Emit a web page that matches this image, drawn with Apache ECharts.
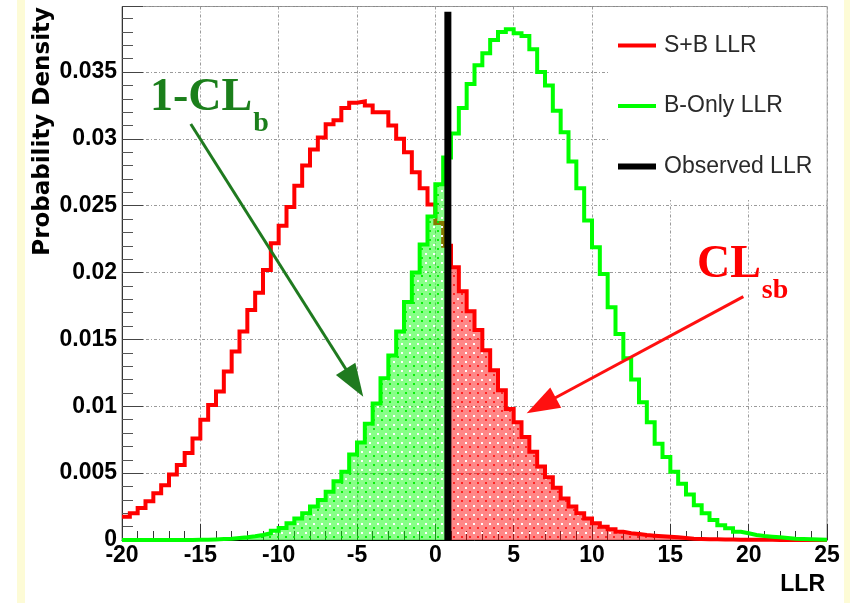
<!DOCTYPE html>
<html><head><meta charset="utf-8">
<script src="https://cdn.jsdelivr.net/npm/echarts@6/dist/echarts.min.js"></script>
<style>html,body{margin:0;padding:0;background:#fff}#c{width:850px;height:603px}</style>
</head><body><div id="c"></div>
<script>
// ---- data ----
const binLow = -20, binWidth = 0.5;           // histogram bins: -20 .. 25, width 0.5
const sbValues = [
  0.00174,0.0020,0.0024,0.0029,0.0035,0.0041,0.0049,0.0056,0.0065,0.0076,
  0.0090,0.0101,0.0111,0.0126,0.0141,0.0156,0.0172,0.0185,0.0202,0.0222,
  0.0235,0.0249,0.0265,0.0280,0.0292,0.0301,0.0311,0.0314,0.0323,0.0327,
  0.0328,0.0325,0.0320,0.0320,0.0310,0.0300,0.0290,0.0275,0.0263,0.0251,
  0.0237,0.0220,0.0204,0.0186,0.0171,0.0157,0.0142,0.0127,0.0112,0.0098,
  0.0088,0.0077,0.0066,0.0055,0.0047,0.0039,0.0031,0.0025,0.0020,0.0016,
  0.00125,0.0010,0.0008,0.00062,0.0005,0.00045,0.00037,0.00032,0.00028,0.00024,
  0.0002,0.00015,0.0001,0.00008,0.00006,0.00005,0.00004,0.00003,0.00002,0.00002,
  0.00001,0.00001,0.00001,0,0,0,0,0,0,0
];
const bValues = [
  0,0,0,0,0,0,0,0,0,0.00001,
  0.00002,0.00004,0.00007,0.0001,0.00015,0.0002,0.00028,0.00038,0.0005,0.0007,
  0.0009,0.00125,0.0016,0.0020,0.0025,0.0030,0.0036,0.0044,0.0051,0.0064,
  0.0073,0.0087,0.0102,0.0121,0.0138,0.0156,0.0178,0.0200,0.0221,0.0242,
  0.0266,0.0286,0.0304,0.0323,0.0341,0.0355,0.0364,0.0374,0.0380,0.0382,
  0.0379,0.0377,0.0367,0.0350,0.0340,0.0321,0.0305,0.0283,0.0263,0.0239,
  0.0219,0.0199,0.0174,0.0154,0.0136,0.0120,0.0103,0.0088,0.0072,0.0062,
  0.0051,0.0042,0.0034,0.0026,0.0020,0.0015,0.0011,0.00087,0.00062,0.0005,
  0.00037,0.0003,0.00025,0.0002,0.00015,0.0001,0.00007,0.00005,0.00003,0.00002
];
const observedLLR = 0.8;
const observedTop = 0.0395;
const seriesNames = ['S+B LLR', 'B-Only LLR', 'Observed LLR'];
const xMin = -20, xMax = 25, xInterval = 5;
const yMin = 0, yMax = 0.0399, yInterval = 0.005;
// annotation anchors (data coordinates)
const greenArrow = [[-15.61, 0.03111], [-4.60, 0.01072]];
const redArrow = [[19.66, 0.01820], [5.83, 0.00948]];
const labelB = { main: '1-CL', sub: 'b', at: [-18.21, 0.03306] };
const labelSB = { main: 'CL', sub: 'sb', at: [16.70, 0.02057] };

// ---- build ----
const edges = sbValues.map((_, i) => binLow + i * binWidth);
const xEnd = binLow + sbValues.length * binWidth;
function stepData(vals) {
  const d = edges.map((e, i) => [e, vals[i]]);
  d.push([xEnd, vals[vals.length - 1]]);
  return d;
}
const obsBin = Math.floor((observedLLR - binLow) / binWidth);
const greenFill = edges.slice(0, obsBin + 1).map((e, i) => [e, bValues[i]])
  .concat([[observedLLR, bValues[obsBin]]]);
const redFill = [[observedLLR, sbValues[obsBin]]]
  .concat(edges.slice(obsBin + 1).map((e, k) => [e, sbValues[obsBin + 1 + k]]))
  .concat([[xEnd, sbValues[sbValues.length - 1]]]);

function makeTile(base, dot) {
  const c = document.createElement('canvas'); c.width = 8; c.height = 9;
  const g = c.getContext('2d');
  g.fillStyle = base; g.fillRect(0, 0, 8, 9);
  g.fillStyle = '#ffffff'; g.fillRect(1, 1, 2, 2);
  g.fillStyle = dot; g.fillRect(5, 5, 2, 2);
  return c;
}
const greenTile = makeTile('rgba(0,255,0,0.47)', 'rgba(0,235,0,0.9)');
const redTile = makeTile('rgba(255,0,0,0.47)', 'rgba(255,20,20,0.85)');

const labelFont = { color: '#000', fontWeight: 'bold', fontSize: 23, fontFamily: 'Liberation Sans, Arial, sans-serif' };
const gridLine = { show: true, lineStyle: { color: '#9a9a9a', width: 1, type: [3, 2, 1, 2] } };
const hiddenSymbol = { opacity: 0 };

const chart = echarts.init(document.getElementById('c'), null, { renderer: 'canvas' });
const option = {
  animation: false,
  backgroundColor: '#ffffff',
  grid: { left: 122, right: 23, top: 6.5, bottom: 63, show: true, borderColor: '#8a8a8a', borderWidth: 1,
          containLabel: false, outerBoundsMode: 'none' },
  xAxis: {
    type: 'value', min: xMin, max: xMax, interval: xInterval,
    axisLine: { show: true, onZero: false, lineStyle: { color: '#000', width: 1 } },
    axisTick: { show: true, inside: true, length: 16, lineStyle: { color: '#333' } },
    minorTick: { show: true, splitNumber: 5, length: 9, lineStyle: { color: '#333' } },
    axisLabel: Object.assign({ show: true, margin: 4 }, labelFont),
    splitLine: gridLine, minorSplitLine: { show: false }
  },
  yAxis: {
    type: 'value', min: yMin, max: yMax, interval: yInterval,
    axisLine: { show: true, onZero: false, lineStyle: { color: '#333', width: 1 } },
    axisTick: { show: true, inside: true, length: 21, lineStyle: { color: '#444' } },
    minorTick: { show: true, splitNumber: 5, length: 11, lineStyle: { color: '#555' } },
    axisLabel: Object.assign({ show: true, margin: 5, showMaxLabel: false }, labelFont),
    splitLine: gridLine, minorSplitLine: { show: false }
  },
  legend: {
    show: true, orient: 'vertical', left: 610, top: 29,
    itemWidth: 38, itemHeight: 24, itemGap: 37.5, selectedMode: false,
    textStyle: { fontFamily: 'Liberation Sans, Arial, sans-serif', fontSize: 23, color: '#2a2a2a', padding: [0, 0, 0, 3] },
    data: [
      { name: seriesNames[0], lineStyle: { width: 4 }, itemStyle: hiddenSymbol },
      { name: seriesNames[1], lineStyle: { width: 4 }, itemStyle: hiddenSymbol },
      { name: seriesNames[2], lineStyle: { width: 6 }, itemStyle: hiddenSymbol }
    ]
  },
  series: [
    { type: 'line', name: 'sbFill', data: redFill, step: 'end', symbol: 'none', silent: true, z: 2,
      lineStyle: { width: 0 }, areaStyle: { color: { image: redTile, repeat: 'repeat' }, opacity: 1 } },
    { type: 'line', name: seriesNames[0], data: stepData(sbValues), step: 'end', symbol: 'none', z: 3, clip: false,
      lineStyle: { color: '#ff0000', width: 4, join: 'miter' }, itemStyle: { color: '#ff0000' } },
    { type: 'line', name: 'bFill', data: greenFill, step: 'end', symbol: 'none', silent: true, z: 4,
      lineStyle: { width: 0 }, areaStyle: { color: { image: greenTile, repeat: 'repeat' }, opacity: 1 } },
    { type: 'line', name: seriesNames[1], data: stepData(bValues), step: 'end', symbol: 'none', z: 5, clip: false,
      lineStyle: { color: '#00ff00', width: 4, join: 'miter' }, itemStyle: { color: '#00ff00' } },
    { type: 'line', name: seriesNames[2], data: [[observedLLR, 0], [observedLLR, observedTop]], symbol: 'none', z: 6,
      lineStyle: { color: '#000000', width: 7 }, itemStyle: { color: '#000000' } }
  ]
};
chart.setOption(option);

// ---- annotations ----
const px = p => chart.convertToPixel({ gridIndex: 0 }, p);
const mctx = document.createElement('canvas').getContext('2d');
function textW(font, t) { mctx.font = font; return mctx.measureText(t).width; }
function arrow(seg, color) {
  const a = px(seg[0]), b = px(seg[1]);
  const dx = b[0] - a[0], dy = b[1] - a[1], len = Math.hypot(dx, dy), ux = dx / len, uy = dy / len;
  const L = 33, W = 11.5;
  const bx = b[0] - ux * L, by = b[1] - uy * L;
  return [
    { type: 'line', z: 20, shape: { x1: a[0], y1: a[1], x2: bx + ux * 3, y2: by + uy * 3 }, style: { stroke: color, lineWidth: 3 } },
    { type: 'polygon', z: 20, shape: { points: [[b[0], b[1]], [bx - uy * W, by + ux * W], [bx + uy * W, by - ux * W]] }, style: { fill: color } }
  ];
}
function subLabel(lab, color) {
  const p = px(lab.at);
  const mainFont = 'bold 46px "Liberation Serif", "Times New Roman", serif';
  const subFont = 'bold 28px "Liberation Serif", "Times New Roman", serif';
  const w = textW(mainFont, lab.main);
  return [
    { type: 'text', z: 20, x: p[0], y: p[1], style: { text: lab.main, font: mainFont, fill: color, align: 'left', verticalAlign: 'middle' } },
    { type: 'text', z: 20, x: p[0] + w + 1, y: p[1] + 26, style: { text: lab.sub, font: subFont, fill: color, align: 'left', verticalAlign: 'middle' } }
  ];
}
const gTop = px([xMin, yMax]), gBot = px([xMax, yMin]);
const elements = [
  { type: 'rect', z: 0, shape: { x: 17, y: 0, width: 8, height: 603 }, style: { fill: '#fdfbd6' } },
  { type: 'rect', z: 0, shape: { x: 844, y: 0, width: 6, height: 603 }, style: { fill: '#fdfbd6' } },
  { type: 'rect', z: 1, shape: { x: 608, y: gTop[1] + 1, width: gBot[0] - 608 - 0.5, height: 200 - gTop[1] - 1 }, style: { fill: '#ffffff' } },
  { type: 'text', z: 20, x: 43, y: gTop[1] + 0.5, rotation: Math.PI / 2,
    style: { text: 'Probability Density', font: 'bold 23px "DejaVu Sans", sans-serif', fill: '#000', align: 'right', verticalAlign: 'middle' } },
  { type: 'text', z: 20, x: gBot[0] - 2, y: 585,
    style: { text: 'LLR', font: 'bold 23px "Liberation Sans", Arial, sans-serif', fill: '#000', align: 'right', verticalAlign: 'middle' } }
].concat(arrow(greenArrow, '#1f7a1f'), arrow(redArrow, '#ff1010'),
         subLabel(labelB, '#1b7f1b'), subLabel(labelSB, '#ff0000'));
chart.setOption({ graphic: { elements: elements } });
</script>
</body></html>
